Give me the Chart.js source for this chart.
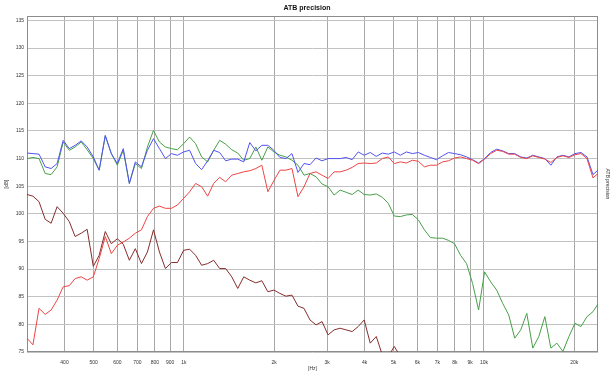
<!DOCTYPE html>
<html><head><meta charset="utf-8">
<script src="https://cdn.jsdelivr.net/npm/chart.js@4/dist/chart.umd.min.js"></script>
<style>html,body{margin:0;padding:0;background:#fff;}canvas{display:block;}</style>
</head><body>
<canvas id="c" width="614" height="376"></canvas>
<script>
const freqHz = [300,314,329,345,361,378,396,415,434,455,476,499,522,547,573,600,628,658,689,722,756,792,829,868,909,952,998,1045,1094,1146,1200,1257,1316,1378,1444,1512,1583,1658,1737,1819,1905,1995,2089,2188,2292,2400,2514,2632,2757,2887,3024,3167,3317,3474,3638,3810,3990,4179,4377,4584,4800,5027,5265,5514,5775,6048,6334,6633,6947,7276,7620,7980,8358,8753,9167,9600,10054,10530,11028,11549,12095,12668,13267,13894,14551,15240,15960,16715,17506,18334,19200,20108,21059,22055,23098,24000];

const blueDb = [111.0,110.9,110.8,108.5,108.2,109.1,113.3,111.8,112.4,113.2,112.1,110.3,107.9,114.2,110.9,109.1,111.8,105.5,109.4,108.5,111.5,113.6,111.8,110.0,110.9,110.6,111.2,111.5,109.1,108.0,109.6,111.5,111.1,109.6,109.9,109.9,109.4,112.9,111.4,112.4,112.4,111.5,110.2,110.0,110.9,107.5,109.1,108.9,110.1,109.6,110.0,110.0,110.0,110.2,109.8,111.2,110.6,111.1,110.4,111.0,110.8,111.2,110.6,111.2,110.9,111.1,110.6,110.2,109.8,110.5,111.1,110.9,110.7,110.3,109.8,109.2,110.0,111.1,111.7,111.4,110.9,110.9,110.3,110.1,110.6,110.3,110.0,108.8,110.3,110.6,110.3,110.9,111.1,110.3,107.1,107.9];

const greenDb = [110.0,110.2,110.0,107.3,107.1,108.5,113.0,111.5,112.1,113.0,111.6,110.0,107.9,114.1,110.9,108.8,111.5,105.5,109.1,108.2,112.1,115.1,113.0,112.1,111.8,111.6,112.7,113.9,112.7,110.3,109.4,111.5,113.3,112.6,111.6,111.0,109.7,110.0,112.1,109.7,112.1,111.2,110.6,110.3,109.7,108.8,107.0,107.3,106.7,105.4,104.9,103.4,104.3,103.9,103.5,104.3,103.5,103.4,103.6,103.0,101.9,99.6,99.5,99.8,99.9,98.9,97.1,95.7,95.6,95.6,95.2,94.6,92.5,91.0,87.4,82.6,89.5,87.7,86.2,83.8,81.7,77.5,79.0,82.0,75.7,77.8,81.4,75.7,76.6,75.1,77.8,80.2,79.6,81.4,82.3,83.7];

const redDb = [77.5,76.3,82.9,81.8,82.6,84.4,86.8,87.0,88.3,88.6,88.0,88.6,91.9,95.9,92.8,94.3,94.9,95.6,96.5,97.1,99.5,101.0,101.4,101.0,101.0,101.6,102.8,104.0,105.5,104.9,103.2,105.5,106.6,105.8,107.0,107.3,107.6,107.8,108.2,108.8,104.0,106.0,107.9,107.9,108.2,103.1,104.9,107.3,107.6,107.0,106.4,107.6,107.6,107.9,108.4,109.1,109.2,109.1,109.2,110.0,110.3,109.1,109.4,109.2,109.7,109.5,108.5,108.8,108.8,109.4,109.6,110.1,110.3,110.0,109.7,109.1,109.9,110.9,111.5,111.3,110.8,110.8,110.2,110.0,110.5,110.2,109.9,109.3,110.2,110.5,110.2,110.7,110.9,110.0,106.5,107.3];

const darkRedDb = [103.5,103.2,102.2,99.0,98.3,101.3,100.1,98.6,95.9,96.5,97.2,90.5,92.5,96.8,94.6,95.5,94.5,91.6,93.7,91.0,93.1,97.1,93.1,90.1,91.2,91.2,93.4,93.6,92.5,90.7,91.0,91.6,90.1,90.1,88.6,86.5,88.6,88.0,87.5,87.9,85.9,86.2,85.6,85.1,85.3,83.3,82.9,80.8,79.9,80.5,78.1,79.0,79.3,79.0,78.7,79.6,80.8,76.6,77.8,74.5,74.2,76.0,74.2];

const xTickValues = [400,500,600,700,800,900,1000,2000,3000,4000,5000,6000,7000,8000,9000,10000,20000];
const xTickLabels = ['400','500','600','700','800','900','1k','2k','3k','4k','5k','6k','7k','8k','9k','10k','20k'];
const yTickValues = [75,80,85,90,95,100,105,110,115,120,125,130,135];

function pts(ys){ return freqHz.map((f,i)=>({x:f, y:(ys[i]===undefined?null:ys[i])})); }

const FONT = "'Liberation Sans', Arial, sans-serif";
const frame = { id:'frame', beforeDatasetsDraw(chart){
  const {ctx, chartArea:a} = chart;
  ctx.save(); ctx.strokeStyle='#8c8c8c'; ctx.lineWidth=1;
  ctx.strokeRect(Math.round(a.left)+0.5, Math.round(a.top)+0.5, Math.round(a.right)-Math.round(a.left)-1, Math.round(a.bottom)-Math.round(a.top)-1);
  ctx.restore(); } };

new Chart(document.getElementById('c'), {
  type:'line',
  data:{ datasets:[
    {label:'red', data:pts(redDb), borderColor:'#ee4444'},
    {label:'blue', data:pts(blueDb), borderColor:'#5252f2'},
    {label:'darkred', data:pts(darkRedDb), borderColor:'#862c2c'},
    {label:'green', data:pts(greenDb), borderColor:'#46a046'}
  ]},
  options:{
    responsive:false, animation:false, devicePixelRatio:1,
    layout:{padding:0},
    elements:{ point:{radius:0}, line:{borderWidth:1, tension:0} },
    plugins:{ legend:{display:false}, tooltip:{enabled:false},
      title:{display:true, text:'ATB precision', color:'#111', font:{family:FONT, size:7, weight:'bold', lineHeight:1}, padding:{top:4.5,bottom:4.5}} },
    scales:{
      x:{ type:'logarithmic', position:'bottom', min:300, max:24000,
        afterBuildTicks:s=>{ s.ticks = xTickValues.map(v=>({value:v})); },
        afterFit:s=>{ s.height = 24; },
        ticks:{ autoSkip:false, maxRotation:0, minRotation:0, padding:8, color:'#333', font:{family:FONT,size:5}, callback:(v,i)=>xTickLabels[i] },
        grid:{ color:'#a8a8a8', lineWidth:1, drawTicks:false },
        border:{display:false},
        title:{display:true, text:'[Hz]', color:'#333', font:{family:FONT,size:5}, padding:{top:0,bottom:4}} },
      y:{ type:'linear', position:'left', min:75, max:135.8,
        afterBuildTicks:s=>{ s.ticks = yTickValues.map(v=>({value:v})); },
        afterFit:s=>{ s.width = 27; },
        ticks:{ padding:3, color:'#333', font:{family:FONT,size:5}, callback:v=>String(v) },
        grid:{ color:'#c2c2c2', lineWidth:1, drawTicks:false },
        border:{display:false},
        title:{display:true, text:'[dB]', color:'#333', font:{family:FONT,size:5}, padding:{top:4,bottom:0}} },
      y2:{ type:'linear', position:'right', display:true,
        afterFit:s=>{ s.width = 16; },
        ticks:{display:false}, grid:{display:false, drawOnChartArea:false, drawTicks:false}, border:{display:false},
        title:{display:true, text:'ATB precision', color:'#333', font:{family:FONT,size:5}, padding:{top:4,bottom:0}} }
    }
  },
  plugins:[frame]
});
</script>
</body></html>
